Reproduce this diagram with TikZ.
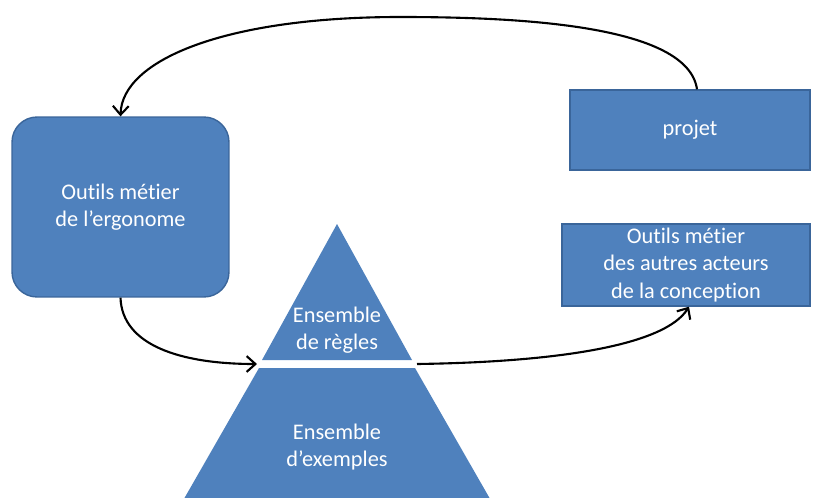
\documentclass[tikz,border=0pt]{standalone}
\usepackage{fontspec}
\setmainfont[RawFeature=-liga]{Carlito}
\usetikzlibrary{arrows.meta}
\definecolor{boxblue}{HTML}{4F81BD}
\definecolor{boxline}{HTML}{3A659A}
\tikzset{
  box/.style={draw=boxline, fill=boxblue, line width=0.8pt, text=white, align=center, inner sep=0pt,
    font=\fontsize{12.7}{15.5}\selectfont},
  lbl/.style={text=white, align=center, font=\fontsize{12.7}{15.5}\selectfont},
  conn/.style={line width=1.2pt, -{Straight Barb[length=5pt,width=9pt,line width=1.2pt]}}
}
\begin{document}
\begin{tikzpicture}[x=0.02cm, y=-0.02cm]
\useasboundingbox (0,0) rectangle (814,497);
\begin{scope}
\clip (0,0) rectangle (814,497);
% triangle, lower part
\fill[boxblue] (259,368) -- (415,368) -- (505,525) -- (169,525) -- cycle;
% triangle, upper part
\fill[boxblue] (337,224) -- (412,360) -- (262,360) -- cycle;
\end{scope}
\coordinate (bandL) at (257,364);
\coordinate (bandR) at (417,364);
\node[lbl] (regles) at (337,330) {Ensemble\\de règles};
\node[lbl] (exemples) at (337,447) {Ensemble\\d’exemples};
\node[box, rounded corners=0.5cm, minimum width=4.34cm, minimum height=3.6cm] (ergo) at (120.5,207) {Outils métier\\de l’ergonome};
\node[box, minimum width=4.8cm, minimum height=1.6cm] (projet) at (690,130) {projet};
\node[box, minimum width=4.96cm, minimum height=1.64cm] (autres) at (686,265) {Outils métier\\des autres acteurs\\de la conception};
\coordinate (ptop) at (697,90);
\coordinate (pbot) at (689,306);
\draw[conn] (projet.north -| ptop) .. controls (688,25) and (520,17) .. (400,17)
  .. controls (225,17) and (122,60) .. (ergo.north);
\draw[conn] (ergo.south) .. controls (122,345) and (180,364) .. (bandL);
\draw[conn] (bandR) .. controls (560,362) and (665,345) .. (autres.south -| pbot);
\end{tikzpicture}
\end{document}
